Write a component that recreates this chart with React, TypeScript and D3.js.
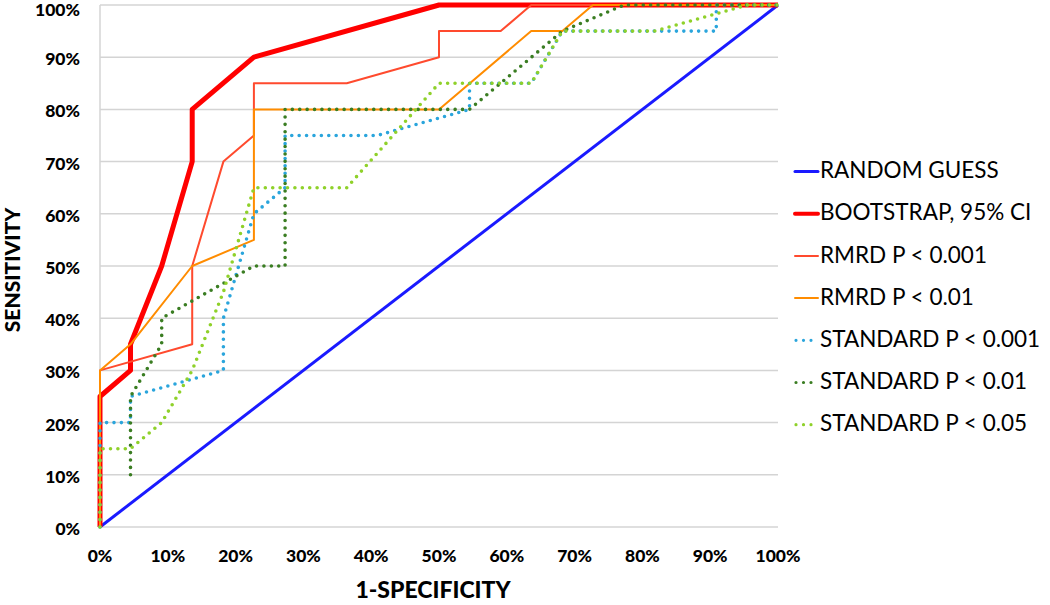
import React from "react";
import * as d3 from "d3";

// 1-specificity (%) and sensitivity (%)
const randomX = [0, 100];
const randomY = [0, 100];

const bootX = [0, 0, 4.5, 4.5, 9.1, 13.6, 13.6, 22.7, 50, 100];
const bootY = [0, 25, 30, 35, 50, 70, 80, 90, 100, 100];

const rmrd001X = [0, 0, 13.6, 13.6, 18.2, 22.7, 22.7, 36.4, 50, 50, 59.1, 63.6, 100];
const rmrd001Y = [0, 30, 35, 50, 70, 75, 85, 85, 90, 95, 95, 100, 100];

const rmrd01X = [0, 0, 4.5, 13.6, 22.7, 22.7, 50, 63.6, 68.2, 72.7, 100];
const rmrd01Y = [0, 30, 35, 50, 55, 80, 80, 95, 95, 100, 100];

const std001X = [0, 0, 4.5, 4.5, 18.2, 18.2, 22.7, 27.3, 27.3, 40.9, 54.5, 54.5, 63.6, 68.2, 90.9, 90.9, 100];
const std001Y = [0, 20, 20, 25, 30, 40, 60, 65, 75, 75, 80, 85, 85, 95, 95, 100, 100];

const std01X = [4.5, 4.5, 9.1, 9.1, 22.7, 27.3, 27.3, 54.5, 68.2, 77.3, 100];
const std01Y = [10, 25, 35, 40, 50, 50, 80, 80, 95, 100, 100];

const std05X = [0, 0, 4.5, 9.1, 13.6, 18.2, 22.7, 36.4, 50, 63.6, 68.2, 81.8, 95.5, 100];
const std05Y = [0, 15, 15, 20, 30, 45, 65, 65, 85, 85, 95, 95, 100, 100];

const seriesNames = [
  "RANDOM GUESS",
  "BOOTSTRAP, 95% CI",
  "RMRD P < 0.001",
  "RMRD P < 0.01",
  "STANDARD P < 0.001",
  "STANDARD P < 0.01",
  "STANDARD P < 0.05",
];

const xTicks = [0, 10, 20, 30, 40, 50, 60, 70, 80, 90, 100];
const yTicks = [0, 10, 20, 30, 40, 50, 60, 70, 80, 90, 100];

type Style = { color: string; width: number; dotted: boolean };
const styles: Style[] = [
  { color: "#1a1aff", width: 3, dotted: false },
  { color: "#ff0000", width: 5, dotted: false },
  { color: "#ff4a2e", width: 2, dotted: false },
  { color: "#ff8c00", width: 2, dotted: false },
  { color: "#2aa5dc", width: 3.6, dotted: true },
  { color: "#3a7d22", width: 3.6, dotted: true },
  { color: "#8fd12a", width: 3.6, dotted: true },
];

const FONT = "Lato, 'Open Sans', sans-serif";

export default function App() {
  const x = d3.scaleLinear().domain([0, 100]).range([100, 778]);
  const y = d3.scaleLinear().domain([0, 100]).range([527, 5]);

  const data: [number[], number[]][] = [
    [randomX, randomY],
    [bootX, bootY],
    [rmrd001X, rmrd001Y],
    [rmrd01X, rmrd01Y],
    [std001X, std001Y],
    [std01X, std01Y],
    [std05X, std05Y],
  ];

  const line = d3
    .line<[number, number]>()
    .x((d) => x(d[0]))
    .y((d) => y(d[1]));

  const legendY0 = 171.5;
  const legendStep = 42.2;

  return (
    <svg
      width={1050}
      height={605}
      style={{ position: "absolute", left: 0, top: 0, background: "#fff" }}
    >
      {/* gridlines */}
      {yTicks.map((t) => (
        <line
          key={"g" + t}
          x1={x(0)}
          x2={x(100)}
          y1={y(t)}
          y2={y(t)}
          stroke="#d4d4d4"
          strokeWidth={1.5}
        />
      ))}
      <line x1={x(0)} x2={x(0)} y1={y(0)} y2={y(100)} stroke="#d4d4d4" strokeWidth={1.5} />

      {/* y tick labels */}
      {yTicks.map((t) => (
        <text
          key={"yl" + t}
          x={80}
          y={Math.max(y(t) + 3.5, 11.5)}
          textAnchor="end"
          dominantBaseline="middle"
          fontFamily={FONT}
          fontWeight="900"
          fontSize={17.5}
          fill="#000"
        >
          {t + "%"}
        </text>
      ))}
      {/* x tick labels */}
      {xTicks.map((t) => (
        <text
          key={"xl" + t}
          x={x(t)}
          y={557.5}
          textAnchor="middle"
          dominantBaseline="middle"
          fontFamily={FONT}
          fontWeight="900"
          fontSize={17.5}
          fill="#000"
        >
          {t + "%"}
        </text>
      ))}

      {/* axis titles */}
      <text
        x={433}
        y={592}
        textAnchor="middle"
        dominantBaseline="middle"
        fontFamily={FONT}
        fontWeight="900"
        fontSize={23}
        fill="#000"
      >
        1-SPECIFICITY
      </text>
      <text
        transform={`translate(14.5,270) rotate(-90)`}
        textAnchor="middle"
        dominantBaseline="middle"
        fontFamily={FONT}
        fontWeight="900"
        fontSize={21}
        fill="#000"
      >
        SENSITIVITY
      </text>

      {/* series */}
      {data.map(([xs, ys], i) => {
        const s = styles[i];
        const pts = xs.map((v, k) => [v, ys[k]] as [number, number]);
        return (
          <path
            key={"s" + i}
            d={line(pts) || ""}
            fill="none"
            stroke={s.color}
            strokeWidth={s.width}
            strokeLinejoin="round"
            strokeLinecap={s.dotted ? "round" : "butt"}
            strokeDasharray={s.dotted ? "0 7.4" : undefined}
          />
        );
      })}

      {/* legend */}
      {seriesNames.map((name, i) => {
        const s = styles[i];
        const ly = legendY0 + i * legendStep;
        return (
          <g key={"lg" + i}>
            <line
              x1={s.dotted ? 796 : 795}
              x2={818}
              y1={ly}
              y2={ly}
              stroke={s.color}
              strokeWidth={s.dotted ? 3.2 : s.width === 5 ? 4 : s.width}
              strokeLinecap="round"
              strokeDasharray={s.dotted ? "0 7.5" : undefined}
            />
            <text
              x={820}
              y={ly + 1}
              dominantBaseline="middle"
              fontFamily={FONT}
              fontSize={22.5}
              fill="#000"
            >
              {name}
            </text>
          </g>
        );
      })}
    </svg>
  );
}
